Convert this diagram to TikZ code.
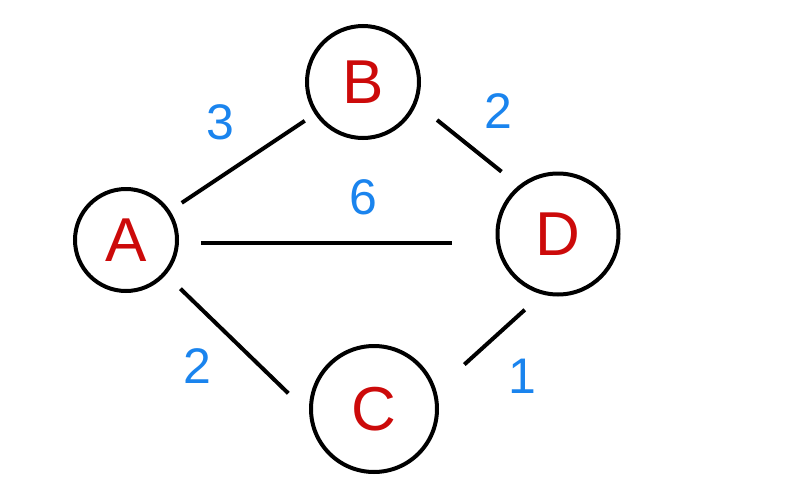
\documentclass[tikz,border=0pt]{standalone}
\usepackage{fontspec}
\setmainfont{Liberation Sans}
\definecolor{vtxred}{HTML}{CC0A0A}
\definecolor{wtblue}{HTML}{1A84EE}
\tikzset{
  vertex/.style={draw, circle, line width=4pt, inner sep=0pt, text=vtxred,
    font=\fontsize{62}{62}\selectfont},
  link/.style={line width=4pt},
  weight/.style={text=wtblue, font=\fontsize{50}{50}\selectfont}
}
\begin{document}
\begin{tikzpicture}[x=1pt,y=-1pt]
  \useasboundingbox (0,0) rectangle (804,490);
  \node[vertex, minimum size=102pt] (A) at (126,240) {A};
  \node[vertex, minimum size=112pt] (B) at (363,82) {B};
  \node[vertex, minimum size=121pt] (D) at (558,234) {D};
  \node[vertex, minimum size=126pt] (C) at (374,409) {C};
  \draw[link, shorten <=14pt, shorten >=12pt] (A) -- (B);
  \draw[link, shorten <=22pt, shorten >=44pt] (A.-3) -- (A.-3 -| D.west);
  \draw[link, shorten <=26pt, shorten >=22pt] (B.-22) -- (D.129);
  \draw[link, shorten <=20pt, shorten >=29pt] (A.-41) -- (C.184);
  \draw[link, shorten <=38pt, shorten >=23pt] (C.17) -- (D.-105);
  \node[weight] (wab) at (220,122) {3};
  \node[weight] (wbd) at (498,111) {2};
  \node[weight] (wad) at (363,197) {6};
  \node[weight] (wac) at (197,366) {2};
  \node[weight] (wcd) at (522,376) {1};
\end{tikzpicture}
\end{document}
